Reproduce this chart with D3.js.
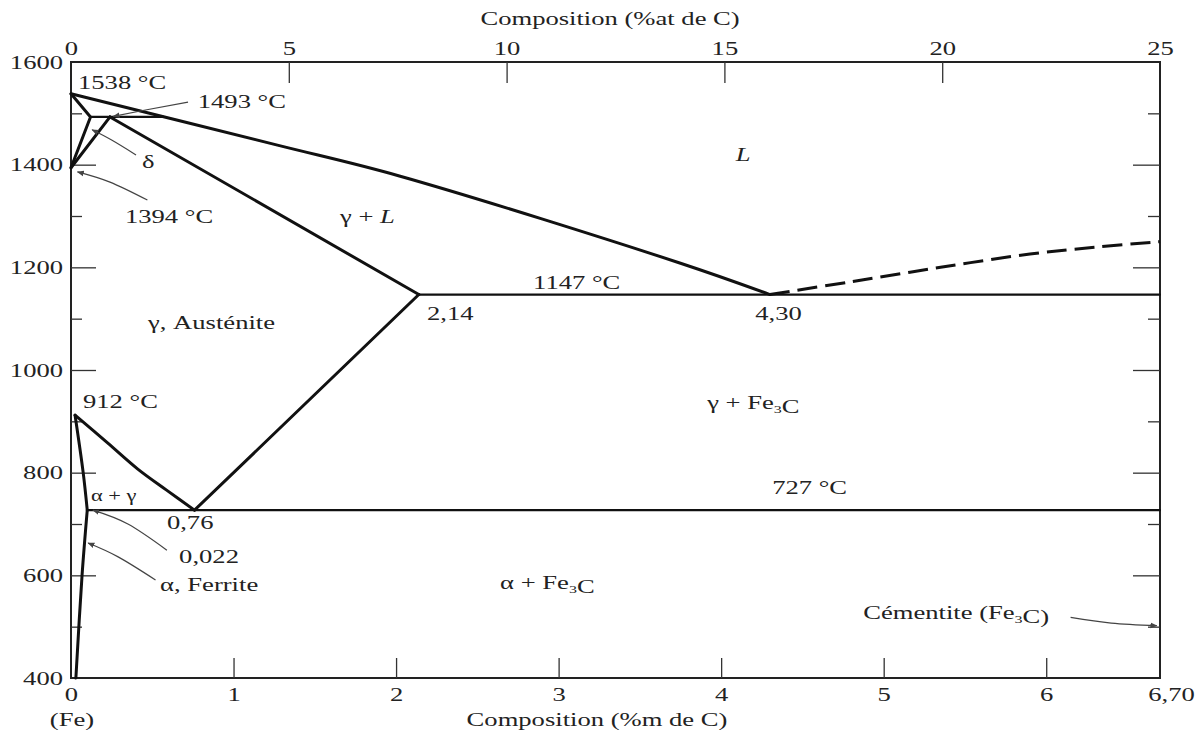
<!DOCTYPE html>
<html>
<head>
<meta charset="utf-8">
<script src="https://cdn.jsdelivr.net/npm/d3@7"></script>
<style>
body { margin: 0; background: #fff; }
</style>
</head>
<body>
<div id="chart"></div>
<script>
// DATA (composition en %m de C, temperature en °C)
const liquidus = [[0, 1538], [1.27, 1438], [2.02, 1378], [3.75, 1208], [4.30, 1147]];
const liquidusCem = [[4.30, 1147], [4.8, 1172], [5.35, 1200], [5.9, 1226], [6.33, 1240], [6.70, 1250]];
const deltaBounds = [[0, 1538], [0.12, 1493], [0, 1394]];
const gammaDelta = [[0, 1394], [0.24, 1493]];
const solidusGamma = [[0.24, 1493], [2.14, 1147]];
const acm = [[0.76, 727], [2.14, 1147]];
const a3 = [[0.025, 912], [0.225, 858], [0.411, 807], [0.588, 766], [0.76, 727]];
const alphaGamma = [[0.025, 912], [0.075, 800], [0.1, 727]];
const alphaSolvus = [[0.1, 727], [0.068, 600], [0.03, 400]];
const isotherms = [
    [[0.12, 1493], [0.57, 1493]],
    [[2.14, 1147], [6.70, 1147]],
    [[0.1, 727], [6.70, 727]]
];

const wtTicks = [0, 1, 2, 3, 4, 5, 6, 6.7];
const wtLabels = ["0", "1", "2", "3", "4", "5", "6", "6,70"];
const atTicks = [0, 5, 10, 15, 20, 25];
const tMajor = [400, 600, 800, 1000, 1200, 1400, 1600];
const tMinor = [500, 700, 900, 1100, 1300, 1500];

// labels: texte, %m C, °C (ligne de base, debut du texte)
const labels = [
    ["1538 °C", 0.043, 1547],
    ["1493 °C", 0.78, 1510],
    ["δ", 0.437, 1393],
    ["1394 °C", 0.332, 1286],
    ["γ + *L*", 1.655, 1286],
    ["*L*", 4.09, 1407],
    ["1147 °C", 2.843, 1158],
    ["2,14", 2.19, 1097],
    ["4,30", 4.21, 1097],
    ["γ, Austénite", 0.474, 1080],
    ["912 °C", 0.074, 926],
    ["γ + Fe_3C", 3.914, 924],
    ["727 °C", 4.314, 758],
    ["α + γ", 0.123, 745],
    ["0,76", 0.59, 690],
    ["0,022", 0.665, 624],
    ["α, Ferrite", 0.548, 569],
    ["α + Fe_3C", 2.64, 573],
    ["Cémentite (Fe_3C)", 4.874, 515]
];
// fleches d'annotation
const arrows = [
    [[0.72, 1522], [0.45, 1506], [0.26, 1494]],
    [[0.40, 1419], [0.25, 1448], [0.13, 1468]],
    [[0.47, 1331], [0.24, 1366], [0.04, 1386]],
    [[0.59, 649], [0.35, 700], [0.135, 727]],
    [[0.52, 591], [0.29, 636], [0.105, 663]],
    [[6.15, 518], [6.40, 507], [6.68, 502]]
];

const width = 1199, height = 733;
const SX = 1.4; // the scan is stretched horizontally
const FONT = "'Liberation Serif', 'DejaVu Serif', serif";

const x = d3.scaleLinear([0, 6.7], [71, 1160]);
const xAt = d3.scaleLinear([0, 25], [71, 1160]);
const y = d3.scaleLinear([400, 1600], [678, 62]);

const svg = d3.select("#chart").append("svg")
    .attr("width", width)
    .attr("height", height)
    .attr("viewBox", [0, 0, width, height])
    .style("font-family", FONT);

svg.append("defs").append("marker")
    .attr("id", "arr")
    .attr("viewBox", "0 0 10 10")
    .attr("refX", 9).attr("refY", 5)
    .attr("markerWidth", 7).attr("markerHeight", 7)
    .attr("markerUnits", "userSpaceOnUse")
    .attr("orient", "auto")
    .append("path")
    .attr("d", "M0,1L10,5L0,9z")
    .attr("fill", "#444");

// frame
svg.append("rect")
    .attr("x", x(0)).attr("y", y(1600))
    .attr("width", x(6.7) - x(0)).attr("height", y(400) - y(1600))
    .attr("fill", "none").attr("stroke", "#222").attr("stroke-width", 2);

function styleAxis(g) {
    g.select(".domain").remove();
    g.selectAll("line").attr("stroke", "#333").attr("stroke-width", 1.3);
    g.selectAll("text")
        .attr("fill", "#222")
        .style("font-family", FONT)
        .style("font-size", "19px");
}

svg.append("g")
    .attr("transform", `translate(0,${y(400)})`)
    .call(d3.axisBottom(x).tickValues(wtTicks)
        .tickFormat((d, i) => wtLabels[i]).tickSizeInner(-20).tickSizeOuter(0).tickPadding(10))
    .call(styleAxis)
    .call(g => g.selectAll("text").attr("transform", `scale(${SX},1)`))
    .call(g => g.selectAll(".tick").filter(d => d === 6.7).select("text").attr("x", 11 / SX))
    .call(g => g.selectAll(".tick").filter(d => d === 0 || d === 6.7).select("line").remove());

svg.append("g")
    .attr("transform", `translate(0,${y(1600)})`)
    .call(d3.axisTop(xAt).tickValues(atTicks).tickSizeInner(-21).tickSizeOuter(0).tickPadding(7))
    .call(styleAxis)
    .call(g => g.selectAll("text").attr("transform", `scale(${SX},1)`))
    .call(g => g.selectAll(".tick").filter(d => d === 0 || d === 25).select("line").remove());

svg.append("g")
    .attr("transform", `translate(${x(0)},0)`)
    .call(d3.axisLeft(y).tickValues(tMajor).tickFormat(d3.format("d"))
        .tickSizeInner(-25).tickSizeOuter(0).tickPadding(8))
    .call(styleAxis)
    .call(g => g.selectAll("text").attr("x", -8 / SX).attr("transform", `scale(${SX},1)`))
    .call(g => g.selectAll(".tick").filter(d => d === 400 || d === 1600).select("line").remove());

svg.append("g")
    .attr("transform", `translate(${x(0)},0)`)
    .call(d3.axisLeft(y).tickValues(tMinor).tickSizeInner(-11).tickSizeOuter(0).tickFormat(""))
    .call(styleAxis);

svg.append("g")
    .attr("transform", `translate(${x(6.7)},0)`)
    .call(d3.axisRight(y).tickValues(tMajor.slice(1, -1)).tickSizeInner(-27).tickSizeOuter(0).tickFormat(""))
    .call(styleAxis);

svg.append("g")
    .attr("transform", `translate(${x(6.7)},0)`)
    .call(d3.axisRight(y).tickValues(tMinor).tickSizeInner(-12).tickSizeOuter(0).tickFormat(""))
    .call(styleAxis);

// texte etire, avec indice 3 et L italique
function addText(px, py, str, size, anchor) {
    const t = svg.append("text")
        .attr("transform", `translate(${px},${py}) scale(${SX},1)`)
        .attr("text-anchor", anchor || "start")
        .attr("fill", "#222")
        .style("font-size", size + "px");
    str.split(/(_3|\*L\*)/).filter(s => s.length).forEach(s => {
        if (s === "_3") {
            t.append("tspan").attr("dy", 4).style("font-size", (size * 0.6) + "px").text("3");
            t.append("tspan").attr("dy", -4).text("");
        } else if (s === "*L*") {
            t.append("tspan").style("font-style", "italic").text("L");
        } else {
            t.append("tspan").text(s);
        }
    });
    return t;
}

addText(x(0) + (x(6.7) - x(0)) * 0.495, 25, "Composition (%at de C)", 19, "middle");
addText(x(0) + (x(6.7) - x(0)) * 0.483, 726, "Composition (%m de C)", 19, "middle");
addText(x(0) + 1, 726, "(Fe)", 19, "middle");

// phase boundaries
const line = d3.line().x(d => x(d[0])).y(d => y(d[1]));
const curve = d3.line().x(d => x(d[0])).y(d => y(d[1])).curve(d3.curveCatmullRom);

const bounds = svg.append("g")
    .attr("fill", "none")
    .attr("stroke", "#111")
    .attr("stroke-linejoin", "round")
    .attr("stroke-linecap", "round");

bounds.selectAll("path.iso")
    .data(isotherms)
    .join("path")
    .attr("class", "iso")
    .attr("stroke-width", 2.2)
    .attr("d", line);

bounds.selectAll("path.b")
    .data([liquidus, deltaBounds, gammaDelta, solidusGamma, acm])
    .join("path")
    .attr("class", "b")
    .attr("stroke-width", 3)
    .attr("d", d => d.length > 3 ? curve(d) : line(d));

bounds.selectAll("path.c")
    .data([a3, alphaGamma, alphaSolvus])
    .join("path")
    .attr("class", "c")
    .attr("stroke-width", 3)
    .attr("d", curve);

bounds.append("path")
    .datum(liquidusCem)
    .attr("stroke-width", 3)
    .attr("stroke-linecap", "butt")
    .attr("stroke-dasharray", "20 8")
    .attr("d", curve);

// annotation arrows
svg.append("g")
    .attr("fill", "none")
    .attr("stroke", "#444")
    .attr("stroke-width", 1.2)
    .selectAll("path")
    .data(arrows)
    .join("path")
    .attr("d", d3.line().x(d => x(d[0])).y(d => y(d[1])).curve(d3.curveNatural))
    .attr("marker-end", "url(#arr)");

// region / point labels
labels.forEach(([t, c, T]) => {
    addText(x(c), y(T), t, t === "α + γ" ? 16 : 19);
});
</script>
</body>
</html>
